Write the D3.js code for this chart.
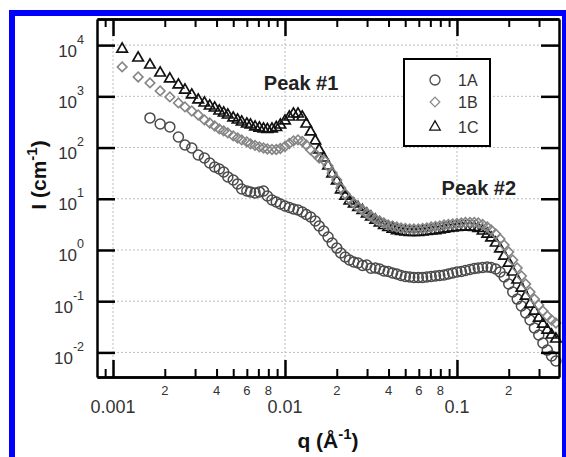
<!DOCTYPE html>
<html><head><meta charset="utf-8">
<script src="https://cdn.jsdelivr.net/npm/d3@7"></script>
<style>body{margin:0;background:#fff}svg{display:block}text{font-family:"Liberation Sans",Arial,Helvetica,sans-serif}</style>
</head><body><svg id="c" width="566" height="457"></svg>
<script>
// ---------- DATA ----------
const q = [0.00113,0.0014,0.00164,0.00188,0.00214,0.0024,0.00262,0.00287,0.00313,0.0034,0.00365,0.0039,0.00415,0.0044,0.00465,
0.0050,0.0053,0.0056,0.0060,0.0063,0.0067,0.0071,0.0075,0.0079,0.0084,0.0089,0.0094,0.0100,0.0106,0.0112,0.0119,0.0126,0.0133,0.0141,0.0150,0.0158,0.0168,0.0178,0.0188,0.0200,0.0211,0.0224,0.0237,0.0251,0.0266,0.0282,0.0299,0.0316,0.0335,0.0355,0.0376,0.0398,0.0422,0.0447,0.0473,0.0501,0.0531,0.0562,0.0596,0.0631,0.0668,0.0708,0.0750,0.0794,0.0841,0.0891,0.0944,0.100,0.106,0.112,0.119,0.126,0.133,0.141,0.150,0.158,0.168,0.178,0.188,0.200,0.211,0.224,0.237,0.251,0.266,0.282,0.299,0.316,0.335,0.355,0.376];

const i1A = [null,null,379,289,253,161,112,98.2,71.6,62.6,50.0,41.8,38.2,33.4,26.7,
23.3,19.5,15.5,14.2,13.6,13.0,13.6,14.2,11.3,9.48,8.66,7.91,7.23,6.76,6.32,6.04,5.52,4.94,4.41,3.68,2.94,2.35,1.79,1.37,1.09,0.874,0.730,0.638,0.583,0.557,0.50,0.509,0.44,0.445,0.425,0.39,0.380,0.356,0.340,0.318,0.304,0.297,0.290,0.290,0.290,0.297,0.304,0.311,0.318,0.325,0.340,0.356,0.372,0.380,0.398,0.416,0.435,0.445,0.455,0.466,0.455,0.425,0.372,0.297,0.217,0.151,0.110,0.0806,0.0588,0.0429,0.0300,0.0219,0.0153,0.0111,0.0085,0.0068];

const i1B = [3750,2390,1830,1275,973,743,621,518,433,346,302,264,231,211,193,
169,154,141,129,118,110,103,98.2,93.9,91.8,91.8,96.0,105,120,135,141,132,112,89.8,75.0,62.6,57.2,43.7,31.9,23.3,16.3,12.4,9.91,8.28,6.92,6.04,5.28,4.61,4.03,3.68,3.37,3.08,2.94,2.81,2.69,2.63,2.57,2.57,2.57,2.63,2.69,2.81,2.88,2.94,3.08,3.15,3.22,3.29,3.37,3.44,3.44,3.44,3.37,3.15,2.81,2.46,2.05,1.64,1.25,0.914,0.638,0.445,0.311,0.217,0.151,0.110,0.0843,0.0644,0.0514,0.0429,0.0375];

const i1C = [8400,5620,4100,2860,2190,1670,1330,1065,851,743,649,593,518,474,433,
379,346,316,289,276,253,241,231,226,231,247,276,331,396,453,453,396,289,202,135,89.8,62.6,43.7,30.5,22.3,14.9,11.3,9.06,7.91,6.76,5.91,5.05,4.41,3.85,3.37,3.01,2.75,2.57,2.40,2.30,2.25,2.20,2.20,2.20,2.25,2.30,2.35,2.40,2.46,2.57,2.63,2.69,2.75,2.81,2.81,2.81,2.75,2.63,2.35,2.05,1.72,1.37,1.05,0.763,0.557,0.372,0.260,0.181,0.126,0.0881,0.0644,0.0470,0.0359,0.0274,0.0219,0.0183];

const seriesNames = ["1A","1B","1C"];
const yTickValues = [0.01,0.1,1,10,100,1000,10000];
const yTickExponents = ["-2","-1","0","1","2","3","4"];
const xMajorTicks = [0.001,0.01,0.1];
const xMajorLabels = ["0.001","0.01","0.1"];
const xMinorTicks = [0.0009,0.002,0.003,0.004,0.005,0.006,0.007,0.008,0.009,0.02,0.03,0.04,0.05,0.06,0.07,0.08,0.09,0.2,0.3];
const xMinorLabelTicks = [0.002,0.004,0.006,0.008,0.02,0.04,0.06,0.08,0.2];
const xMinorLabels = ["2","4","6","8","2","4","6","8","2"];
const peakLabels = ["Peak #1","Peak #2"];
const peakQ = [0.0124,0.134];
const peakI = [1330,11.9];

// ---------- CHART ----------
const svg = d3.select("#c");
const X0 = 97, X1 = 559, Y0 = 19, Y1 = 377;
const x = d3.scaleLog().domain([0.000807, 0.392]).range([X0, X1]);
const y = d3.scaleLog().domain([Math.pow(10,-2.48), Math.pow(10,4.51)]).range([Y1, Y0]);

svg.append("rect").attr("width",566).attr("height",457).attr("fill","#fff");
svg.append("rect").attr("x",12).attr("y",13).attr("width",553).attr("height",600)
  .attr("fill","none").attr("stroke","#0000ff").attr("stroke-width",6);

const grid = svg.append("g").attr("stroke","#bdbdbd").attr("stroke-width",1).attr("stroke-dasharray","2,2");
grid.selectAll(".gx").data(xMajorTicks).enter().append("line")
  .attr("x1",d=>x(d)).attr("x2",d=>x(d)).attr("y1",Y0).attr("y2",Y1);
grid.selectAll(".gy").data(yTickValues).enter().append("line")
  .attr("y1",d=>y(d)).attr("y2",d=>y(d)).attr("x1",X0).attr("x2",X1);

function build(vals){ return q.map((v,i)=>({q:v,I:vals[i]})).filter(d=>d.I!=null); }
const dA = build(i1A), dB = build(i1B), dC = build(i1C);

const gA = svg.append("g");
gA.selectAll("circle").data(dA).enter().append("circle")
  .attr("cx",d=>x(d.q)).attr("cy",d=>y(d.I)).attr("r",5)
  .attr("fill","none").attr("stroke","#4a4a4a").attr("stroke-width",1.5);

const triPath = d3.symbol().type(d3.symbolTriangle).size(48);
const diaPath = d3.symbol().type(d3.symbolSquare).size(46);

const gC = svg.append("g");
gC.selectAll("path").data(dC).enter().append("path")
  .attr("d",triPath).attr("transform",d=>`translate(${x(d.q)},${y(d.I)})`)
  .attr("fill","none").attr("stroke","#111").attr("stroke-width",1.7);

const gB = svg.append("g");
gB.selectAll("path").data(dB).enter().append("path")
  .attr("d",diaPath).attr("transform",d=>`translate(${x(d.q)},${y(d.I)}) rotate(45)`)
  .attr("fill","none").attr("stroke","#858585").attr("stroke-width",1.6);

function styleAxis(g, w){
  g.select(".domain").attr("stroke","#000").attr("stroke-width",2.5);
  g.selectAll(".tick line").attr("stroke","#000").attr("stroke-width",w);
  g.selectAll(".tick text").remove();
}
const bMaj = svg.append("g").attr("transform",`translate(0,${Y1})`)
  .call(d3.axisBottom(x).tickValues(xMajorTicks).tickSize(-17).tickSizeOuter(0));
styleAxis(bMaj,2.5);
const bMin = svg.append("g").attr("transform",`translate(0,${Y1})`)
  .call(d3.axisBottom(x).tickValues(xMinorTicks).tickSize(-8).tickSizeOuter(0));
styleAxis(bMin,2);
const tMaj = svg.append("g").attr("transform",`translate(0,${Y0})`)
  .call(d3.axisTop(x).tickValues(xMajorTicks).tickSize(-17).tickSizeOuter(0));
styleAxis(tMaj,2.5);
const tMin = svg.append("g").attr("transform",`translate(0,${Y0})`)
  .call(d3.axisTop(x).tickValues(xMinorTicks).tickSize(-8).tickSizeOuter(0));
styleAxis(tMin,2);
const lAx = svg.append("g").attr("transform",`translate(${X0},0)`)
  .call(d3.axisLeft(y).tickValues(yTickValues).tickSize(-18).tickSizeOuter(0));
styleAxis(lAx,2.5);
const rAx = svg.append("g").attr("transform",`translate(${X1},0)`)
  .call(d3.axisRight(y).tickValues(yTickValues).tickSize(-18).tickSizeOuter(0));
styleAxis(rAx,2.5);

svg.selectAll(".xmaj").data(xMajorTicks).enter().append("text")
  .attr("x",d=>x(d)).attr("y",413).attr("text-anchor","middle")
  .attr("font-size",18).attr("fill","#333").text((d,i)=>xMajorLabels[i]);
svg.selectAll(".xmin").data(xMinorLabelTicks).enter().append("text")
  .attr("x",d=>x(d)).attr("y",395).attr("text-anchor","middle")
  .attr("font-size",13).attr("fill","#333").text((d,i)=>xMinorLabels[i]);

const yl = svg.selectAll(".ylab").data(yTickValues).enter().append("text")
  .attr("x",84).attr("y",d=>y(d)+11.5).attr("text-anchor","end").attr("fill","#333");
yl.append("tspan").attr("font-size",17).text("10");
yl.append("tspan").attr("font-size",12.5).attr("dy",-13).text((d,i)=>yTickExponents[i]);

const xt = svg.append("text").attr("x",(X0+X1)/2).attr("y",448).attr("text-anchor","middle")
  .attr("font-size",21).attr("font-weight","bold").attr("fill","#111");
xt.append("tspan").text("q (Å");
xt.append("tspan").attr("font-size",15).attr("dy",-9).text("-1");
xt.append("tspan").attr("dy",9).text(")");

const yt = svg.append("text").attr("transform","translate(46,175) rotate(-90)").attr("text-anchor","middle")
  .attr("font-size",21).attr("font-weight","bold").attr("fill","#111");
yt.append("tspan").text("I (cm");
yt.append("tspan").attr("font-size",15).attr("dy",-9).text("-1");
yt.append("tspan").attr("dy",9).text(")");

svg.selectAll(".peak").data(peakLabels).enter().append("text")
  .attr("x",(d,i)=>x(peakQ[i])).attr("y",(d,i)=>y(peakI[i])).attr("text-anchor","middle")
  .attr("font-size",20).attr("font-weight","bold").attr("fill","#222").text(d=>d);

const lg = svg.append("g");
lg.append("rect").attr("x",404).attr("y",59).attr("width",86).attr("height",87)
  .attr("fill","#fff").attr("stroke","#000").attr("stroke-width",2);
const rowsY = [80,102,127];
const mk = [
  g=>g.append("circle").attr("r",5).attr("fill","none").attr("stroke","#4a4a4a").attr("stroke-width",1.3),
  g=>g.append("path").attr("d",diaPath).attr("transform","rotate(45)").attr("fill","none").attr("stroke","#8c8c8c").attr("stroke-width",1.3),
  g=>g.append("path").attr("d",triPath).attr("fill","none").attr("stroke","#111").attr("stroke-width",1.3)
];
seriesNames.forEach((n,i)=>{
  const g = lg.append("g").attr("transform",`translate(435,${rowsY[i]})`);
  mk[i](g);
  lg.append("text").attr("x",458).attr("y",rowsY[i]+6).attr("font-size",16).attr("fill","#333").text(n);
});
</script></body></html>
